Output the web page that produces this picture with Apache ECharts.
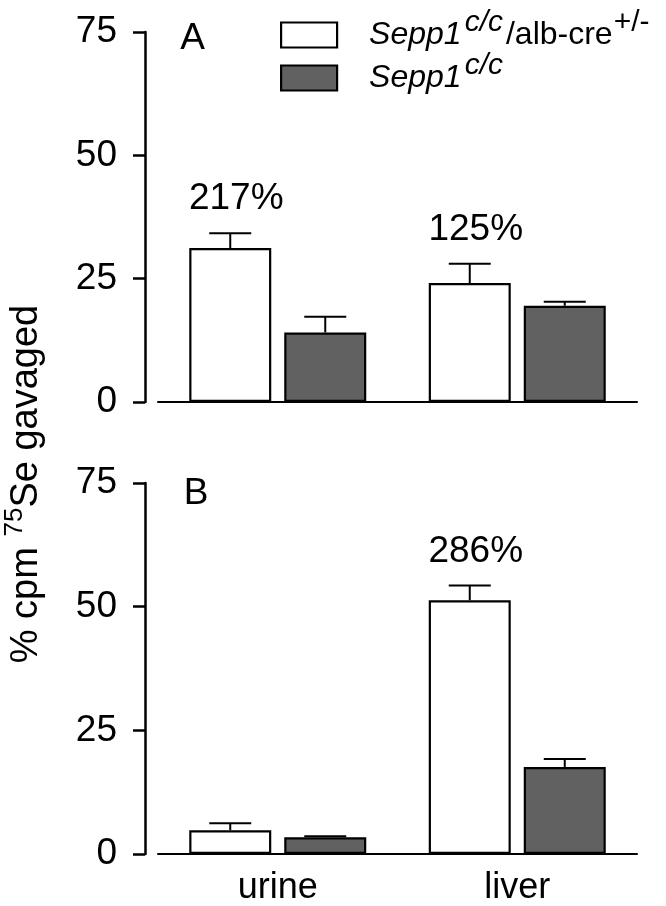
<!DOCTYPE html>
<html>
<head>
<meta charset="utf-8">
<script src="https://cdn.jsdelivr.net/npm/echarts@6/dist/echarts.min.js"></script>
<style>
html,body{margin:0;padding:0;background:#fff;}
#chart{width:666px;height:906px;}
</style>
</head>
<body>
<div id="chart"></div>
<script>
// ---- data ----
const categories = ['urine', 'liver'];
const yTicks = [0, 25, 50, 75];
const seriesNames = ['Sepp1c/c/alb-cre+/-', 'Sepp1c/c'];

const panelA_knockout = [31.2, 24.1];
const panelA_knockoutErr = [3.0, 3.9];
const panelA_control = [14.1, 19.5];
const panelA_controlErr = [3.2, 0.8];
const panelA_pct = ['217%', '125%'];

const panelB_knockout = [4.8, 51.3];
const panelB_knockoutErr = [1.4, 3.0];
const panelB_control = [3.4, 17.6];
const panelB_controlErr = [0.2, 1.6];
const panelB_pct = ['', '286%'];

// ---- style ----
const FONT = 'Liberation Sans, Arial, Helvetica, sans-serif';
const BAR_W = 82;
const GAP_PX = 13;
const SHIFT = (BAR_W + GAP_PX) / 2;
const WHITE = '#ffffff';
const GRAY = '#616161';

const chart = echarts.init(document.getElementById('chart'), null, {renderer: 'canvas'});

function errSeries(gi, vals, errs, side, labels) {
  return {
    type: 'custom',
    xAxisIndex: gi, yAxisIndex: gi,
    z: 5,
    silent: true,
    data: vals.map((v, i) => [i, v, errs[i], labels ? labels[i] : '']),
    renderItem: function (params, api) {
      const cat = api.value(0), v = api.value(1), e = api.value(2);
      const lab = labels ? labels[params.dataIndex] : '';
      const b = api.coord([cat, v]);
      const t = api.coord([cat, v + e]);
      const x = b[0] + side * SHIFT;
      const st = {stroke: '#000', lineWidth: 2};
      const children = [
        {type: 'line', shape: {x1: x, y1: b[1], x2: x, y2: t[1]}, style: st},
        {type: 'line', shape: {x1: x - 21, y1: t[1], x2: x + 21, y2: t[1]}, style: st}
      ];
      if (lab) {
        children.push({
          type: 'text',
          style: {text: lab, x: x + 6, y: t[1] - 34, align: 'center', verticalAlign: 'middle',
                  font: '37px ' + FONT, fill: '#000'}
        });
      }
      return {type: 'group', children: children};
    }
  };
}

function barSeries(gi, name, vals, color) {
  return {
    type: 'bar', name: name,
    xAxisIndex: gi, yAxisIndex: gi,
    data: vals,
    barWidth: BAR_W,
    barGap: (GAP_PX / BAR_W * 100) + '%',
    itemStyle: {color: color, borderColor: '#000', borderWidth: 2.2},
    silent: true
  };
}

const gridTops = [32, 483];
const gridHeights = [370, 373];

const yAxes = [0, 1].map(gi => ({
  type: 'value', gridIndex: gi, min: yTicks[0], max: yTicks[yTicks.length - 1], interval: 25,
  offset: 13,
  axisLine: {show: true, lineStyle: {color: '#000', width: 2.5}},
  axisTick: {show: true, length: 12, lineStyle: {color: '#000', width: 2.5}},
  axisLabel: {fontSize: 37, fontFamily: FONT, color: '#000', margin: 28},
  splitLine: {show: false}
}));

const xAxes = [0, 1].map(gi => ({
  type: 'category', gridIndex: gi, data: categories,
  axisLine: {show: true, lineStyle: {color: '#000', width: 2}},
  axisTick: {show: false},
  axisLabel: {show: gi === 1, fontSize: 36, fontFamily: FONT, color: '#000', margin: 16}
}));

const legendRich = {
  i: {fontSize: 32, fontStyle: 'italic', fontFamily: FONT, color: '#000', lineHeight: 54, padding: [0, 0, 0, 27]},
  n: {fontSize: 32, fontFamily: FONT, color: '#000', lineHeight: 54},
  s: {fontSize: 30, fontStyle: 'italic', fontFamily: FONT, color: '#000', lineHeight: 28, verticalAlign: 'top', padding: [0, 3, 0, 3]},
  p: {fontSize: 30, fontFamily: FONT, color: '#000', lineHeight: 28, verticalAlign: 'top', padding: [0, 0, 0, 1]}
};

const option = {
  animation: false,
  backgroundColor: '#fff',
  grid: [0, 1].map(gi => ({left: 158, right: 29, top: gridTops[gi], height: gridHeights[gi]})),
  xAxis: xAxes,
  yAxis: yAxes,
  legend: {
    data: seriesNames,
    orient: 'vertical',
    left: 280, top: 8,
    padding: 0,
    itemGap: 0,
    itemWidth: 56, itemHeight: 25,
    icon: 'rect',
    itemStyle: {borderColor: '#000', borderWidth: 2.2},
    selectedMode: false,
    textStyle: {rich: legendRich},
    formatter: function (name) {
      return name === seriesNames[0]
        ? '{i|Sepp1}{s|c/c}{n|/alb-cre}{p|+/-}'
        : '{i|Sepp1}{s|c/c}';
    }
  },
  graphic: [
    {type: 'text', x: 27, y: 484, rotation: Math.PI / 2,
     style: {text: '{a|% cpm }{s|75}{a|Se gavaged}', align: 'center', verticalAlign: 'middle',
             rich: {
               a: {fontSize: 38, fontFamily: FONT, fill: '#000', color: '#000', lineHeight: 50},
               s: {fontSize: 26, fontFamily: FONT, fill: '#000', color: '#000', lineHeight: 26, verticalAlign: 'top'}
             }}},
    {type: 'text', x: 192.5, y: 39, style: {text: 'A', font: '37px ' + FONT, fill: '#000', align: 'center', verticalAlign: 'middle'}},
    {type: 'text', x: 196, y: 494, style: {text: 'B', font: '37px ' + FONT, fill: '#000', align: 'center', verticalAlign: 'middle'}}
  ],
  series: [
    barSeries(0, seriesNames[0], panelA_knockout, WHITE),
    barSeries(0, seriesNames[1], panelA_control, GRAY),
    barSeries(1, seriesNames[0], panelB_knockout, WHITE),
    barSeries(1, seriesNames[1], panelB_control, GRAY),
    errSeries(0, panelA_knockout, panelA_knockoutErr, -1, panelA_pct),
    errSeries(0, panelA_control, panelA_controlErr, 1, null),
    errSeries(1, panelB_knockout, panelB_knockoutErr, -1, panelB_pct),
    errSeries(1, panelB_control, panelB_controlErr, 1, null)
  ]
};
chart.setOption(option);
</script>
</body>
</html>
